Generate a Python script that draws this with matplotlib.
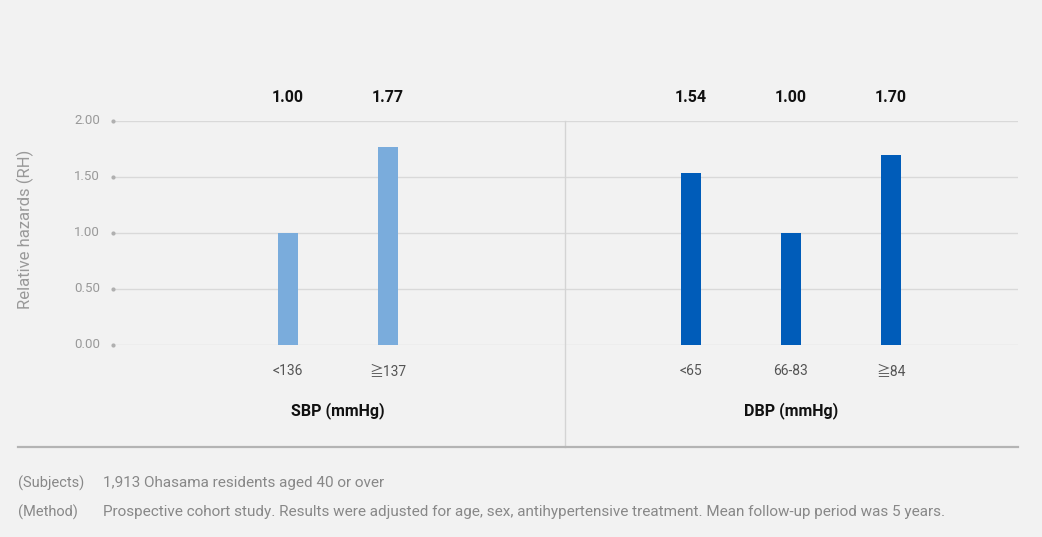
import numpy as np
import matplotlib
matplotlib.use("Agg")
import matplotlib.pyplot as plt
from matplotlib.lines import Line2D
import matplotlib.transforms as mtransforms

# data
sbp_labels = ["<136", "\u2267137"]
sbp_values = [1.00, 1.77]
dbp_labels = ["<65", "66-83", "\u226784"]
dbp_values = [1.54, 1.00, 1.70]
y_ticks = [0.0, 0.5, 1.0, 1.5, 2.0]

BG = "#f2f2f2"
LIGHT = "#7aacdc"
DARK = "#005cb9"
GRID = "#d9d9d9"
GRAYTXT = "#999999"
FAMS = ['Roboto', 'Noto Sans CJK JP', 'DejaVu Sans']

plt.rcParams['font.family'] = FAMS

W, H = 1042, 537
fig = plt.figure(figsize=(W / 100, H / 100), dpi=100, facecolor=BG)

# axes in pixel geometry
left, right, top, bottom = 115, 1018, 121, 345
ax = fig.add_axes([left / W, 1 - bottom / H, (right - left) / W, (bottom - top) / H])
ax.set_facecolor(BG)

# x units: 100 px per unit, first bar at 288 px
px0 = 288
def u(px):
    return (px - px0) / 100.0

sbp_x = np.array([0, 1])
dbp_x = np.array([4.03, 5.03, 6.03])
ax.set_xlim(u(left), u(right))
ax.set_ylim(0, 2)

for yv in y_ticks:
    ax.axhline(yv, color=GRID, lw=1, zorder=0)

ax.bar(sbp_x, sbp_values, width=0.2, color=LIGHT, zorder=2)
ax.bar(dbp_x, dbp_values, width=0.2, color=DARK, zorder=2)

for s in ax.spines.values():
    s.set_visible(False)
ax.set_xticks([])
ax.set_yticks([])

# y tick labels with small dots
trans = mtransforms.blended_transform_factory(ax.transAxes, ax.transData)
for yv in y_ticks:
    ax.plot([-2 / (right - left)], [yv], marker='o', ms=2, color="#b0b0b0",
            transform=trans, clip_on=False)
    ax.text(-15 / (right - left), yv, f"{yv:.2f}", transform=trans,
            ha='right', va='center', fontsize=9.5, color=GRAYTXT)

# value labels on top
xtrans = mtransforms.blended_transform_factory(ax.transData, fig.transFigure)
for xs, vs in ((sbp_x, sbp_values), (dbp_x, dbp_values)):
    for x, v in zip(xs, vs):
        ax.text(x, 1 - 97 / H, f"{v:.2f}", transform=xtrans, ha='center', va='center',
                fontsize=11.5, fontweight='bold', color="#111111")

# category labels
for xs, labs in ((sbp_x, sbp_labels), (dbp_x, dbp_labels)):
    for x, lab in zip(xs, labs):
        ax.text(x, 1 - 371 / H, lab, transform=xtrans, ha='center', va='center',
                fontsize=10, color="#555555", family=FAMS)

# group titles
ax.text(sbp_x.mean(), 1 - 411 / H, "SBP (mmHg)", transform=xtrans, ha='center',
        va='center', fontsize=11.5, fontweight='bold', color="#111111")
ax.text(dbp_x.mean(), 1 - 411 / H, "DBP (mmHg)", transform=xtrans, ha='center',
        va='center', fontsize=11.5, fontweight='bold', color="#111111")

# y axis title
fig.text(25 / W, 1 - 229 / H, "Relative hazards (RH)", rotation=90, ha='center',
         va='center', fontsize=12, color=GRAYTXT)

# divider and bottom rule
fig.add_artist(Line2D([565 / W, 565 / W], [1 - 121 / H, 1 - 447 / H],
                      color="#d4d4d4", lw=1))
fig.add_artist(Line2D([18 / W, 1018 / W], [1 - 447 / H, 1 - 447 / H],
                      color="#b4b4b4", lw=1.6))

# footnotes
foot = [("(Subjects)", "1,913 Ohasama residents aged 40 or over", 483),
        ("(Method)", "Prospective cohort study. Results were adjusted for age, sex, "
         "antihypertensive treatment. Mean follow-up period was 5 years.", 512)]
for tag, txt, yp in foot:
    fig.text(18 / W, 1 - yp / H, tag, ha='left', va='center', fontsize=10.5,
             color="#888888")
    fig.text(103 / W, 1 - yp / H, txt, ha='left', va='center', fontsize=11,
             color="#888888")

fig.savefig("out.png", dpi=100, facecolor=BG)
